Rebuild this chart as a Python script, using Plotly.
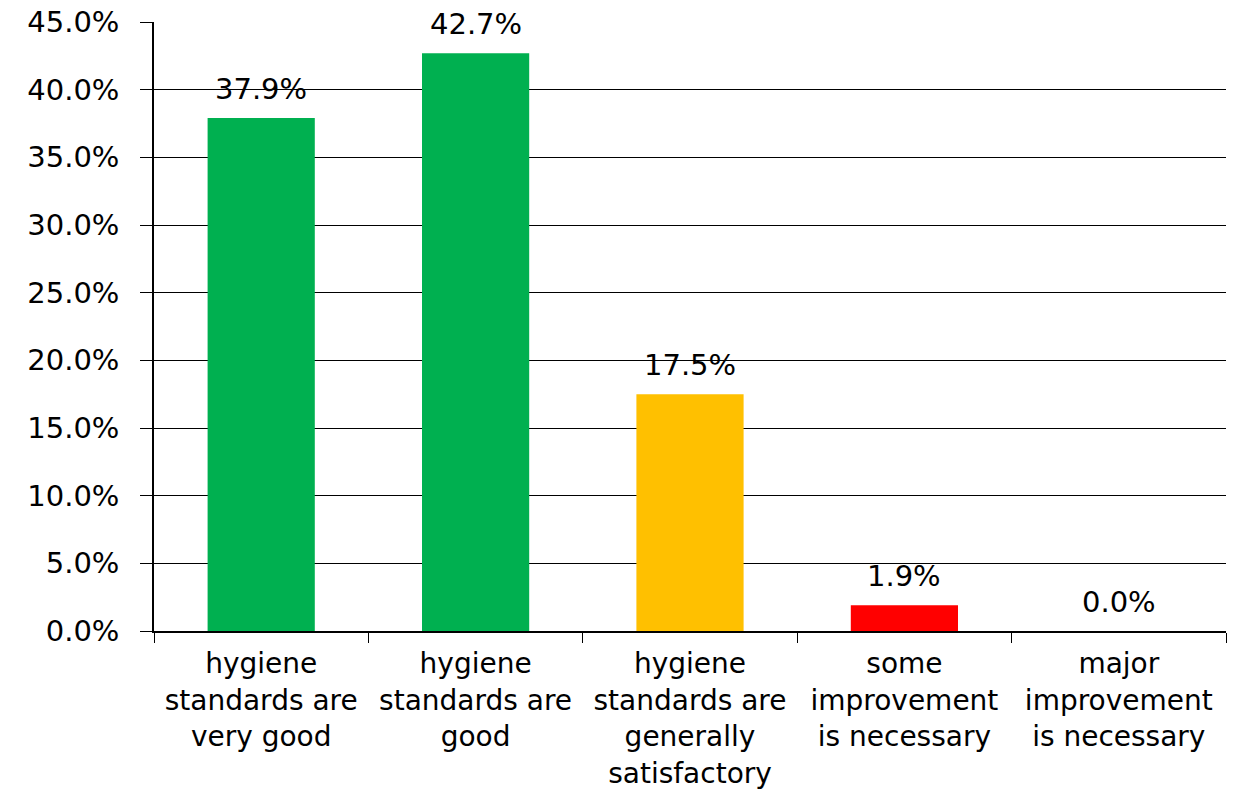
import plotly.graph_objects as go

categories = [
    "hygiene<br>standards are<br>very good",
    "hygiene<br>standards are<br>good",
    "hygiene<br>standards are<br>generally<br>satisfactory",
    "some<br>improvement<br>is necessary",
    "major<br>improvement<br>is necessary",
]
values = [0.379, 0.427, 0.175, 0.019, 0.0]
colors = ["#00B050", "#00B050", "#FFC000", "#FF0000", "#FF0000"]

FONT = "DejaVu Sans"
FS = 29

fig = go.Figure()
fig.add_trace(go.Bar(
    x=categories, y=values, marker=dict(color=colors, line=dict(width=0)),
    width=0.5, showlegend=False, hoverinfo="skip",
))

for c, v in zip(categories, values):
    fig.add_annotation(
        x=c, y=v, text=f"{v*100:.1f}%", showarrow=False,
        yanchor="bottom", yshift=10, font=dict(family=FONT, size=FS, color="black"),
    )

fig.update_layout(
    width=1234, height=791,
    margin=dict(l=154, r=8, t=22, b=160, autoexpand=False),
    paper_bgcolor="white", plot_bgcolor="white",
    font=dict(family=FONT, size=FS, color="black"),
    bargap=0.5,
)
fig.update_yaxes(
    range=[0, 0.45], dtick=0.05, tickformat=".1%",
    showgrid=True, gridcolor="black", gridwidth=1,
    showline=True, linecolor="black", linewidth=1.5,
    ticks="outside", ticklen=12, tickcolor="black",
    ticklabelstandoff=15, automargin=False, ticklabeloverflow="allow",
    zeroline=False, tickfont=dict(family=FONT, size=FS),
)
fig.update_xaxes(
    showline=True, linecolor="black", linewidth=1.5,
    ticks="outside", ticklen=10, tickcolor="black", tickson="boundaries",
    ticklabelstandoff=7, automargin=False,
    tickangle=0, tickfont=dict(family=FONT, size=28),
)

fig.write_html(
    "out.html",
    config={"displayModeBar": False},
    post_script="document.body.style.margin='0';document.body.style.overflow='hidden';",
)
